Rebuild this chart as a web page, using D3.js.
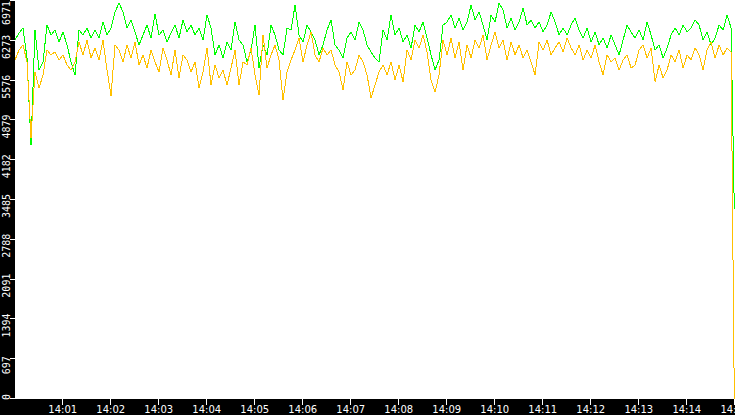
<!DOCTYPE html>
<html>
<head>
<meta charset="utf-8">
<script src="https://cdn.jsdelivr.net/npm/d3@7"></script>
<style>
  html, body { margin: 0; padding: 0; background: #fff; }
  svg { display: block; }
  .axis text { fill: #fff; }
</style>
</head>
<body>
<svg id="chart" width="735" height="415"></svg>
<script>
// samples every 5 s from 14:00:01, last point is the 14:15:00 drop
const startTime = new Date(2000, 0, 1, 14, 0, 1);
const endTime   = new Date(2000, 0, 1, 14, 15, 0);
const stepSec   = 5;

const yTicks = [0, 697, 1394, 2091, 2788, 3485, 4182, 4879, 5576, 6273, 6971];

const greenValues = [
  6288, 6411, 6498, 5973, 4451, 6463, 5763, 5903, 6550, 6376,
  6463, 6253, 6428, 6201, 5903, 5676, 6463, 6376, 6498, 6323,
  6463, 6323, 6603, 6376, 6498, 6778, 6936, 6778, 6498, 6638,
  6428, 6201, 6376, 6550, 6323, 6743, 6376, 6463, 6253, 6411,
  6550, 6323, 6638, 6428, 6550, 6376, 6498, 6288, 6725, 6498,
  6026, 6201, 5973, 6253, 6113, 6603, 6288, 6201, 5903, 6113,
  6550, 5798, 6201, 6026, 6550, 6376, 6113, 6026, 6498, 6463,
  6900, 6376, 6253, 6550, 6428, 6288, 6026, 6201, 6463, 6638,
  6201, 6113, 5973, 6323, 6428, 6288, 6603, 6463, 6201, 6078,
  5973, 5903, 6463, 6288, 6725, 6376, 6498, 6253, 6376, 6148,
  6550, 6428, 6603, 6323, 6026, 5763, 5938, 6550, 6603, 6725,
  6498, 6673, 6463, 6603, 6900, 6638, 6778, 6550, 6288, 6725,
  6603, 6936, 6813, 6498, 6673, 6463, 6603, 6848, 6550, 6638,
  6498, 6603, 6428, 6550, 6778, 6603, 6376, 6498, 6376, 6550,
  6673, 6463, 6323, 6498, 6253, 6428, 6201, 6323, 6148, 6376,
  6201, 6026, 6288, 6550, 6428, 6323, 6463, 6288, 6603, 6376,
  6113, 6201, 5973, 6148, 6376, 6498, 6376, 6550, 6428, 6498,
  6638, 6550, 6288, 6428, 6201, 6323, 6550, 6463, 6725, 6498,
  3330
];

const orangeValues = [
  5938, 6113, 6201, 5903, 4573, 5728, 5448, 5676, 6113, 6026,
  6078, 5938, 6026, 5851, 5763, 5903, 6253, 6026, 6288, 5973,
  6148, 5938, 6288, 5763, 5308, 6201, 6113, 5903, 6201, 5973,
  6253, 5851, 6026, 5798, 6113, 5903, 5728, 6148, 5938, 5676,
  6113, 5623, 6026, 5938, 5728, 5903, 5448, 5728, 6148, 5501,
  5851, 5623, 5763, 5501, 5798, 6113, 5501, 5903, 5851, 6148,
  5676, 5326, 6376, 5798, 6026, 6201, 5938, 5238, 5728, 5938,
  6113, 6323, 5903, 6201, 6428, 6026, 5903, 6148, 6026, 6113,
  5851, 5728, 5413, 5903, 5676, 5763, 6026, 5903, 5676, 5273,
  5501, 5728, 5851, 5676, 5903, 5588, 5851, 5553, 6113, 5938,
  6288, 6148, 6376, 6078, 5588, 5378, 5676, 6288, 6026, 6323,
  5973, 6253, 5763, 6201, 5973, 6288, 6148, 6376, 5938, 6201,
  6428, 6148, 6288, 5938, 6253, 6026, 6201, 5973, 6113, 5903,
  5676, 6253, 6113, 6288, 6026, 6148, 6253, 6078, 6323, 6148,
  6026, 6201, 5938, 6113, 5973, 6201, 5903, 5676, 6026, 5903,
  5973, 5763, 5938, 6026, 5798, 5851, 6113, 6201, 5973, 6148,
  5553, 5851, 5623, 5763, 6026, 5903, 6113, 5798, 6026, 5938,
  6148, 6026, 5763, 6113, 6253, 5973, 6201, 6026, 6148, 6078,
  0
];

const times = d3.range(greenValues.length - 1)
  .map(i => new Date(+startTime + i * stepSec * 1000))
  .concat([endTime]);

const W = 735, H = 415;
const left = 15, bottom = 399;

const svg = d3.select("#chart");

const x = d3.scaleTime().domain([startTime, endTime]).range([left, 734.3]);
const y = d3.scaleLinear().domain([0, 6971]).range([bottom, 1]);

// black axis strips
svg.append("rect").attr("x", 0).attr("y", 0).attr("width", left).attr("height", H).attr("fill", "#000");
svg.append("rect").attr("x", 0).attr("y", bottom).attr("width", W).attr("height", H - bottom).attr("fill", "#000");

const line = values => d3.line()
  .x((d, i) => x(times[i]))
  .y(d => y(d))(values);

svg.append("path")
  .attr("d", line(greenValues))
  .attr("fill", "none")
  .attr("stroke", "#00ff00")
  .attr("stroke-width", 1)
  .attr("shape-rendering", "crispEdges");

svg.append("path")
  .attr("d", line(orangeValues))
  .attr("fill", "none")
  .attr("stroke", "#ffc000")
  .attr("stroke-width", 1)
  .attr("shape-rendering", "crispEdges");

// x axis
const xAxis = svg.append("g")
  .attr("class", "axis")
  .attr("transform", `translate(0,${bottom})`)
  .call(d3.axisBottom(x)
    .ticks(d3.timeMinute.every(1))
    .tickFormat(d3.timeFormat("%H:%M"))
    .tickSize(6)
    .tickPadding(1));
xAxis.select(".domain").remove();
xAxis.selectAll("line").attr("stroke", "#fff").attr("shape-rendering", "crispEdges");
xAxis.selectAll("text")
  .attr("font-family", "DejaVu Sans, sans-serif")
  .attr("font-size", 10)
  .attr("fill", "#fff");

// y axis: ticks + rotated labels clamped inside the plot
const yAxis = svg.append("g").attr("class", "axis");
yAxis.selectAll("line")
  .data(yTicks)
  .join("line")
    .attr("x1", 10).attr("x2", left)
    .attr("y1", d => Math.round(y(d)) - 0.5)
    .attr("y2", d => Math.round(y(d)) - 0.5)
    .attr("stroke", "#fff");

yAxis.selectAll("text")
  .data(yTicks)
  .join("text")
    .text(d => d)
    .attr("font-family", "DejaVu Sans Mono, monospace")
    .attr("font-size", 10)
    .attr("fill", "#fff")
    .attr("text-anchor", "middle")
    .attr("transform", function(d) {
      const half = this.getComputedTextLength() / 2;
      let cy = y(d) + 6;
      cy = Math.max(half + 1, Math.min(bottom + 1 - half, cy));
      return `translate(10,${cy}) rotate(-90)`;
    });
</script>
</body>
</html>
